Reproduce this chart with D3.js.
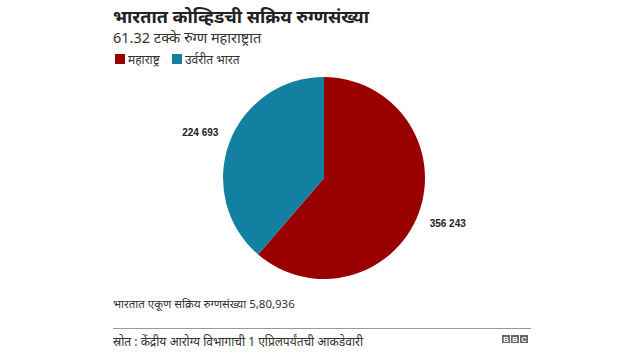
<!DOCTYPE html>
<html><head><meta charset="utf-8">
<script src="https://cdn.jsdelivr.net/npm/d3@7"></script>
<style>body{margin:0;background:#fff;} svg{display:block;font-family:"Noto Sans","Noto Sans Devanagari",sans-serif;}</style>
</head><body>
<script>
const title = "भारतात कोव्हिडची सक्रिय रुग्णसंख्या";
const subtitle = "61.32 टक्के रुग्ण महाराष्ट्रात";
const categories = ["महाराष्ट्र", "उर्वरीत भारत"];
const values = [356243, 224693];
const valueLabels = ["356 243", "224 693"];
const colors = ["#990000", "#1380A1"];
const totalNote = "भारतात एकूण सक्रिय रुग्णसंख्या 5,80,936";
const source = "स्रोत : केंद्रीय आरोग्य विभागाची 1 एप्रिलपर्यंतची आकडेवारी";

const W = 640, H = 360;
const svg = d3.select("body").append("svg").attr("width", W).attr("height", H);

svg.append("text").attr("x", 113).attr("y", 23).attr("font-size", 18).attr("font-weight", "bold").attr("fill", "#222").text(title);
svg.append("text").attr("x", 113).attr("y", 43).attr("font-size", 14.5).attr("fill", "#333").text(subtitle);

const color = d3.scaleOrdinal().domain(categories).range(colors);
const legX = [115, 172];
categories.forEach((c, i) => {
  const g = svg.append("g").attr("transform", `translate(${legX[i]},54)`);
  g.append("rect").attr("width", 10).attr("height", 10).attr("fill", color(c));
  g.append("text").attr("x", 13).attr("y", 10).attr("font-size", 12).attr("fill", "#333").text(c);
});

const cx = 324, cy = 178, r = 101;
const pie = d3.pie().sort(null).value(d => d.v);
const data = pie(categories.map((c, i) => ({c, v: values[i], l: valueLabels[i]})));
const arc = d3.arc().innerRadius(0).outerRadius(r);
const labelArc = d3.arc().innerRadius(r + 31).outerRadius(r + 31);
const pg = svg.append("g").attr("transform", `translate(${cx},${cy})`);
pg.selectAll("path").data(data).join("path").attr("d", arc).attr("fill", d => color(d.data.c));
pg.selectAll("text").data(data).join("text")
  .attr("transform", d => { const p = labelArc.centroid(d); return `translate(${p[0]},${p[1]})`; })
  .attr("text-anchor", "middle").attr("dy", "0.35em")
  .attr("font-size", 10).attr("font-weight", "bold").attr("fill", "#222")
  .attr("font-family", "Liberation Sans, Arial, sans-serif")
  .text(d => d.data.l);

svg.append("text").attr("x", 113).attr("y", 308).attr("font-size", 11.5).attr("fill", "#333").text(totalNote);
svg.append("line").attr("x1", 113).attr("x2", 531).attr("y1", 328.5).attr("y2", 328.5).attr("stroke", "#999").attr("stroke-width", 1);
svg.append("text").attr("x", 113).attr("y", 346).attr("font-size", 12).attr("fill", "#333").text(source);

const bbc = svg.append("g").attr("transform", "translate(502,335)");
["B","B","C"].forEach((ch, i) => {
  bbc.append("rect").attr("x", i * 9).attr("width", 8).attr("height", 8).attr("fill", "#666");
  bbc.append("text").attr("x", i * 9 + 4).attr("y", 7).attr("text-anchor", "middle").attr("font-size", 7.5).attr("font-weight", "bold").attr("fill", "#fff").attr("font-family", "Liberation Sans, Arial, sans-serif").text(ch);
});
</script>
</body></html>
